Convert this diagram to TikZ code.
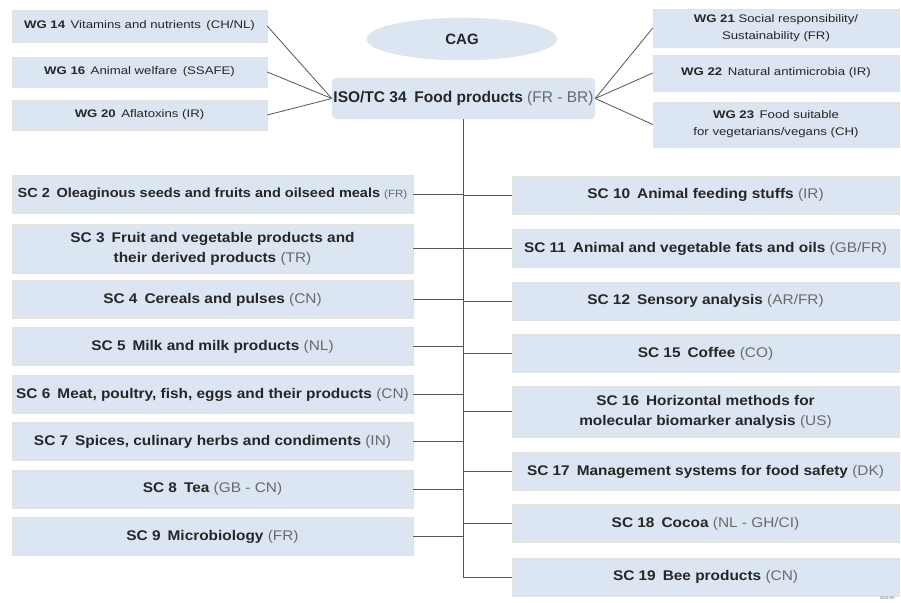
\documentclass[tikz,border=0pt]{standalone}
\usepackage{fontspec}
\setmainfont{Liberation Sans}
\newfontfamily\scfont[FakeStretch=1.1]{Liberation Sans}
\newfontfamily\wgfont[FakeStretch=1.2]{Liberation Sans}
\usetikzlibrary{shapes.geometric}
\definecolor{boxfill}{HTML}{DCE6F2}
\definecolor{boxline}{HTML}{E4E2DC}
\definecolor{codegray}{HTML}{6A6A6A}
\definecolor{linkgray}{HTML}{555555}
\newcommand{\cc}[1]{{\mdseries\color{codegray}#1}}
\begin{document}
\begin{tikzpicture}[x=1pt, y=-1pt,
  box/.style={draw=boxline, fill=boxfill, align=center, inner sep=0pt,
              text=black!85, minimum width=#1},
  sc/.style={box=#1, minimum height=38pt, font=\scfont\fontsize{14}{20}\selectfont\bfseries},
  wg/.style={box=#1, font=\wgfont\fontsize{11}{17}\selectfont},
  link/.style={draw=linkgray, line width=0.8pt}
]
  \useasboundingbox (0,0) rectangle (901,602);

  % top
  \node[draw=boxline, fill=boxfill, ellipse, minimum width=190pt, minimum height=42pt,
        inner sep=0pt, font=\fontsize{15}{18}\selectfont\bfseries, text=black!85]
        (cag) at (462,39) {CAG};
  \node[box=263pt, rounded corners=5pt, minimum height=41pt,
        font=\fontsize{15.5}{18}\selectfont\bfseries] (iso) at (463.5,98.5)
        {ISO/TC 34\enspace Food products \cc{(FR - BR)}};

  % working groups
  \node[wg=255pt, minimum height=32pt] (wg14) at (139.5,26)
        {\textbf{WG 14}\enspace Vitamins and nutrients\enspace(CH/NL)};
  \node[wg=255pt, minimum height=30pt] (wg16) at (139.5,72)
        {\textbf{WG 16}\enspace Animal welfare\enspace(SSAFE)};
  \node[wg=255pt, minimum height=30pt] (wg20) at (139.5,115)
        {\textbf{WG 20}\enspace Aflatoxins (IR)};
  \node[wg=246pt, minimum height=38pt] (wg21) at (776,28)
        {\textbf{WG 21} Social responsibility/\\Sustainability (FR)};
  \node[wg=246pt, minimum height=36pt] (wg22) at (776,73)
        {\textbf{WG 22}\enspace Natural antimicrobia (IR)};
  \node[wg=246pt, minimum height=45pt] (wg23) at (776,124.5)
        {\textbf{WG 23}\enspace Food suitable\\for vegetarians/vegans (CH)};

  % subcommittees, left column
  \node[sc=401pt, font=\scfont\fontsize{13.2}{20}\selectfont\bfseries] (sc2) at (212.5,194.5)
        {SC 2\enspace Oleaginous seeds and fruits and oilseed meals \cc{\fontsize{10.5}{12}\selectfont(FR)}};
  \node[sc=401pt, minimum height=49pt] (sc3) at (212.5,248.5)
        {SC 3\enspace Fruit and vegetable products and\\their derived products \cc{(TR)}};
  \node[sc=401pt] (sc4) at (212.5,299.5) {SC 4\enspace Cereals and pulses \cc{(CN)}};
  \node[sc=401pt] (sc5) at (212.5,346.5) {SC 5\enspace Milk and milk products \cc{(NL)}};
  \node[sc=401pt] (sc6) at (212.5,394.5)
        {SC 6\enspace Meat, poultry, fish, eggs and their products \cc{(CN)}};
  \node[sc=401pt] (sc7) at (212.5,441.5)
        {SC 7\enspace Spices, culinary herbs and condiments \cc{(IN)}};
  \node[sc=401pt] (sc8) at (212.5,489) {SC 8\enspace Tea \cc{(GB - CN)}};
  \node[sc=401pt] (sc9) at (212.5,536.5) {SC 9\enspace Microbiology \cc{(FR)}};

  % subcommittees, right column
  \node[sc=387pt] (sc10) at (705.5,195) {SC 10\enspace Animal feeding stuffs \cc{(IR)}};
  \node[sc=387pt] (sc11) at (705.5,248.5)
        {SC 11\enspace Animal and vegetable fats and oils \cc{(GB/FR)}};
  \node[sc=387pt] (sc12) at (705.5,301) {SC 12\enspace Sensory analysis \cc{(AR/FR)}};
  \node[sc=387pt] (sc15) at (705.5,353.5) {SC 15\enspace Coffee \cc{(CO)}};
  \node[sc=387pt, minimum height=51pt] (sc16) at (705.5,411.5)
        {SC 16\enspace Horizontal methods for\\molecular biomarker analysis \cc{(US)}};
  \node[sc=387pt] (sc17) at (705.5,471.5)
        {SC 17\enspace Management systems for food safety \cc{(DK)}};
  \node[sc=387pt] (sc18) at (705.5,523.5) {SC 18\enspace Cocoa \cc{(NL - GH/CI)}};
  \node[sc=387pt] (sc19) at (705.5,577) {SC 19\enspace Bee products \cc{(CN)}};

  \node[font=\fontsize{4}{5}\selectfont, text=black!60, anchor=east] (date) at (898,598) {2019-05};

  % links
  \foreach \w in {wg14,wg16,wg20}
    \draw[link] (\w.east) -- (iso.west);
  \foreach \w in {wg21,wg22,wg23}
    \draw[link] (iso.east) -- (\w.west);
  \draw[link] (iso.south) |- (sc19.west);
  \foreach \s in {sc2,sc3,sc4,sc5,sc6,sc7,sc8,sc9}
    \draw[link] (\s.east) -- (\s.east -| iso.south);
  \foreach \s in {sc10,sc11,sc12,sc15,sc16,sc17,sc18}
    \draw[link] (\s.west) -- (\s.west -| iso.south);
\end{tikzpicture}
\end{document}
